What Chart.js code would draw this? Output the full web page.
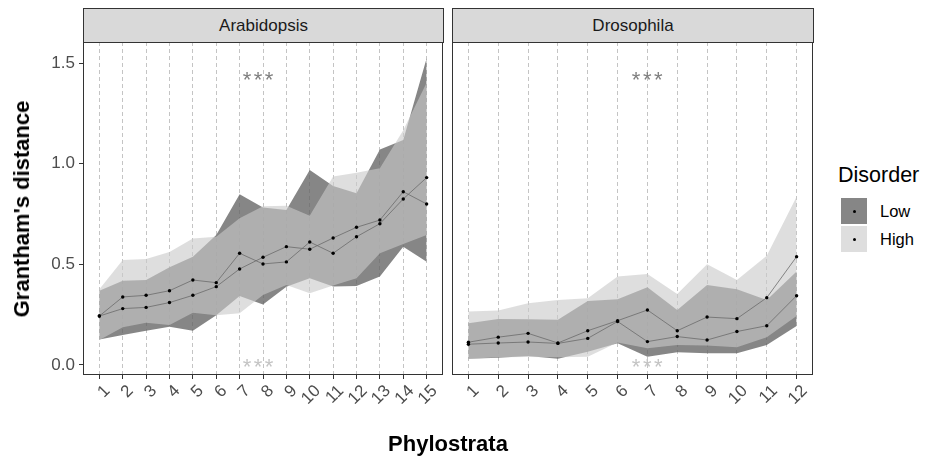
<!DOCTYPE html>
<html>
<head>
<meta charset="utf-8">
<script src="https://cdn.jsdelivr.net/npm/chart.js@4.4.1/dist/chart.umd.min.js"></script>
<style>
  body { margin:0; width:929px; height:461px; background:#fff; position:relative; overflow:hidden;
         font-family:"Liberation Sans", Arial, Helvetica, sans-serif; }
  canvas { position:absolute; top:0; }
  .strip { position:absolute; top:8px; height:35px; background:#d9d9d9; border:1px solid #333;
           box-sizing:border-box; text-align:center; font-size:17px; line-height:33px; color:#1a1a1a; }
  .ytitle { position:absolute; left:22px; top:208.5px; transform:translate(-50%,-50%) rotate(-90deg);
            white-space:nowrap; font-weight:bold; font-size:22px; color:#000; }
  .xtitle { position:absolute; left:448px; top:444px; transform:translate(-50%,-50%);
            white-space:nowrap; font-weight:bold; font-size:22px; color:#000; }
  .ltitle { position:absolute; left:838px; top:163px; font-size:21.5px; color:#000; }
  .key { position:absolute; left:841px; width:26px; height:26px; }
  .key i { position:absolute; left:11.5px; top:11.5px; width:3px; height:3px; border-radius:50%; background:#000; }
  .klab { position:absolute; left:880px; height:26px; line-height:26px; font-size:16.5px; color:#000; }
</style>
</head>
<body>
<canvas id="ara" width="448" height="461" style="left:0"></canvas>
<canvas id="dro" width="370" height="461" style="left:448px"></canvas>

<div class="strip" style="left:83px;width:361px">Arabidopsis</div>
<div class="strip" style="left:452px;width:362px">Drosophila</div>
<div class="ytitle">Grantham's distance</div>
<div class="xtitle">Phylostrata</div>

<div class="ltitle">Disorder</div>
<div class="key" style="top:198px;background:rgb(134,134,134)"><i></i></div>
<div class="klab" style="top:198px">Low</div>
<div class="key" style="top:226px;background:rgb(222,222,222)"><i></i></div>
<div class="klab" style="top:226px">High</div>

<script>
// phylostrata
const araX = [1, 2, 3, 4, 5, 6, 7, 8, 9, 10, 11, 12, 13, 14, 15];
const droX = [1, 2, 3, 4, 5, 6, 7, 8, 9, 10, 11, 12];
const yTicks = [0, 0.5, 1, 1.5];

// Arabidopsis
const araLowMean   = [0.243, 0.280, 0.286, 0.310, 0.346, 0.389, 0.477, 0.535, 0.588, 0.575, 0.631, 0.684, 0.720, 0.861, 0.800];
const araHighMean  = [0.243, 0.338, 0.346, 0.369, 0.422, 0.409, 0.555, 0.502, 0.512, 0.611, 0.555, 0.637, 0.702, 0.825, 0.931];
const araLowUpper  = [0.369, 0.419, 0.422, 0.485, 0.538, 0.646, 0.848, 0.783, 0.770, 0.969, 0.889, 0.853, 1.071, 1.118, 1.524];
const araLowLower  = [0.127, 0.149, 0.170, 0.190, 0.170, 0.247, 0.343, 0.301, 0.389, 0.431, 0.390, 0.392, 0.439, 0.588, 0.513];
const araHighUpper = [0.376, 0.522, 0.527, 0.561, 0.629, 0.637, 0.729, 0.789, 0.791, 0.742, 0.936, 0.955, 0.977, 1.167, 1.402];
const araHighLower = [0.124, 0.187, 0.210, 0.199, 0.260, 0.247, 0.257, 0.348, 0.397, 0.356, 0.395, 0.431, 0.555, 0.601, 0.646];

// Drosophila
const droLowMean   = [0.103, 0.109, 0.114, 0.107, 0.132, 0.216, 0.116, 0.141, 0.124, 0.166, 0.195, 0.344];
const droHighMean  = [0.113, 0.138, 0.157, 0.109, 0.170, 0.220, 0.273, 0.170, 0.238, 0.230, 0.334, 0.538];
const droLowUpper  = [0.207, 0.228, 0.227, 0.224, 0.318, 0.326, 0.386, 0.273, 0.397, 0.376, 0.323, 0.464];
const droLowLower  = [0.031, 0.036, 0.045, 0.031, 0.066, 0.108, 0.041, 0.063, 0.058, 0.058, 0.099, 0.194];
const droHighUpper = [0.265, 0.270, 0.306, 0.323, 0.331, 0.439, 0.452, 0.353, 0.500, 0.422, 0.543, 0.836];
const droHighLower = [0.031, 0.038, 0.040, 0.038, 0.041, 0.111, 0.083, 0.099, 0.096, 0.088, 0.137, 0.243];

// significance stars (x, y, colour)
const araStars = [[7.8, 1.436, '#7f7f7f'], [7.8, 0.012, '#c4c4c4']];
const droStars = [[7, 1.436, '#7f7f7f'], [7, 0.012, '#c4c4c4']];

const lowFill = 'rgba(100,100,100,0.78)';
const highFill = 'rgba(202,202,202,0.62)';
const FONT = '"Liberation Sans", Arial, Helvetica, sans-serif';

Chart.defaults.font.family = FONT;

const pts = (xs, ys) => xs.map((x, i) => ({ x: x, y: ys[i] }));

const panelBox = {
  id: 'panelBox',
  afterDatasetsDraw(chart, args, opts) {
    const { ctx, chartArea: a, scales } = chart;
    ctx.save();
    ctx.font = '22px ' + FONT;
    ctx.letterSpacing = '2.5px';
    ctx.textAlign = 'center';
    ctx.textBaseline = 'alphabetic';
    opts.stars.forEach(s => {
      ctx.fillStyle = s[2];
      ctx.fillText('***', scales.x.getPixelForValue(s[0]) + 1, scales.y.getPixelForValue(s[1]) + 11);
    });
    ctx.letterSpacing = '0px';
    ctx.strokeStyle = '#333';
    ctx.lineWidth = 1;
    ctx.strokeRect(Math.round(a.left) + 0.5, Math.round(a.top) + 0.5,
                   Math.round(a.right - a.left) - 1, Math.round(a.bottom - a.top) - 1);
    ctx.restore();
  }
};

function makePanel(id, xs, d, xmin, xmax, stars, showY, pad) {
  const ribbon = (ys, col, fill, order) => ({
    data: pts(xs, ys), borderWidth: 0, pointRadius: 0, backgroundColor: col, fill: fill, order: order
  });
  const meanLine = ys => ({
    data: pts(xs, ys), borderColor: '#6b6b6b', borderWidth: 0.8, fill: false, order: 1,
    pointRadius: 1.7, pointBackgroundColor: '#000', pointBorderWidth: 0
  });
  new Chart(document.getElementById(id), {
    type: 'line',
    data: {
      datasets: [
        ribbon(d.lowUp, lowFill, '+1', 4),
        ribbon(d.lowLo, lowFill, false, 4),
        ribbon(d.highUp, highFill, '+1', 3),
        ribbon(d.highLo, highFill, false, 3),
        meanLine(d.lowMean),
        meanLine(d.highMean)
      ]
    },
    options: {
      responsive: false,
      animation: false,
      layout: { padding: pad },
      plugins: { legend: { display: false }, tooltip: { enabled: false }, panelBox: { stars: stars } },
      scales: {
        x: {
          type: 'linear', min: xmin, max: xmax,
          afterBuildTicks: s => { s.ticks = xs.map(v => ({ value: v })); },
          afterFit: s => { s.height = 86; },
          grid: { color: '#c4c4c4', lineWidth: 1, tickColor: '#333', tickLength: 4 },
          border: { display: false, dash: [4, 3] },
          ticks: { autoSkip: false, minRotation: 45, maxRotation: 45, labelOffset: 8, padding: 2,
                   color: '#4d4d4d', font: { size: 17 }, callback: v => String(v) }
        },
        y: {
          display: showY,
          min: -0.05, max: 1.605,
          afterBuildTicks: s => { s.ticks = yTicks.map(v => ({ value: v })); },
          afterFit: s => { s.width = showY ? 83 : 0; },
          grid: { drawOnChartArea: false, tickColor: '#333', tickLength: 4 },
          border: { display: false },
          ticks: { padding: 4, color: '#4d4d4d', font: { size: 17 }, callback: v => v.toFixed(1) }
        }
      }
    },
    plugins: [panelBox]
  });
}

makePanel('ara', araX, {
  lowUp: araLowUpper, lowLo: araLowLower, highUp: araHighUpper, highLo: araHighLower,
  lowMean: araLowMean, highMean: araHighMean
}, 0.3, 15.7, araStars, true, { top: 42, right: 5, left: 0, bottom: 0 });

makePanel('dro', droX, {
  lowUp: droLowUpper, lowLo: droLowLower, highUp: droHighUpper, highLo: droHighLower,
  lowMean: droLowMean, highMean: droHighMean
}, 0.45, 12.55, droStars, false, { top: 42, right: 5, left: 4, bottom: 0 });
</script>
</body>
</html>
